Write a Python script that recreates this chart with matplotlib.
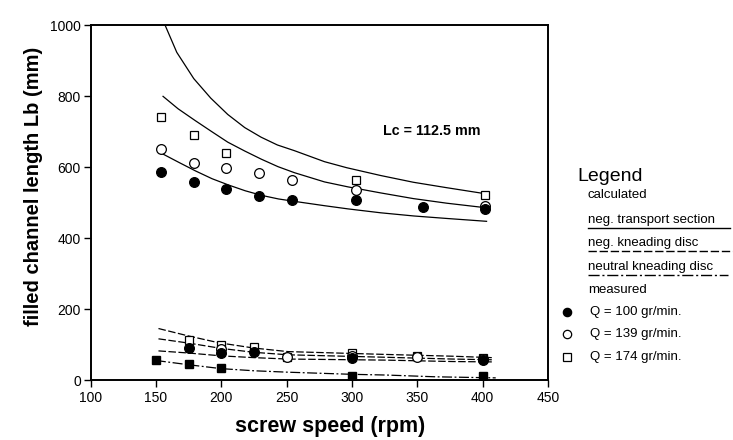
import matplotlib
matplotlib.use("Agg")
import matplotlib.pyplot as plt
from matplotlib.lines import Line2D

plt.rcParams['font.family'] = ['Liberation Sans', 'DejaVu Sans']

# --- measured points, upper group (neg. transport section) ---
q100_speed = [154, 179, 204, 229, 254, 303, 354, 402]
q100_len = [586, 557, 537, 518, 508, 506, 487, 482]
q139_speed = [154, 179, 204, 229, 254, 303, 402]
q139_len = [650, 612, 596, 583, 562, 535, 490]
q174_speed = [154, 179, 204, 303, 402]
q174_len = [741, 690, 640, 564, 521]

# --- measured points, lower group ---
low_q100_speed = [175, 200, 225, 300, 400]
low_q100_len = [90, 75, 80, 61, 57]
low_q139_speed = [200, 250, 300, 350, 400]
low_q139_len = [86, 64, 68, 65, 60]
low_q174_speed = [175, 200, 225, 250, 300, 350, 400]
low_q174_len = [113, 98, 92, 66, 75, 68, 63]
neutral_speed = [150, 175, 200, 300, 400]
neutral_len = [55, 44, 33, 12, 10]

# --- calculated curves, neg. transport section (solid) ---
calc_t1_speed = [157, 166, 179, 192, 205, 218, 230.5, 243, 256, 279, 296, 322, 347, 372, 401.5]
calc_t1_len = [1000, 923, 849, 794, 748, 711, 684, 662, 646, 615, 598, 576, 557, 542, 525]
calc_t2_speed = [155.5, 167, 180, 192.6, 205, 218, 230.7, 243.4, 256, 279, 297, 322, 347, 372.6, 403]
calc_t2_len = [799, 764, 731, 700, 670, 645, 622, 601, 584, 558, 544, 527, 511, 498, 485]
calc_t3_speed = [153.6, 167.6, 180.3, 193, 205.8, 218.4, 231, 243.8, 256.4, 279, 297, 322, 347.5, 372.7, 403]
calc_t3_len = [640, 613, 589, 567, 549, 533, 520, 510, 503, 491, 482, 471, 462, 455, 447]

# --- calculated curves, neg. kneading disc (dashed) ---
calc_k1_speed = [152, 175, 198, 225, 251, 326, 377, 407]
calc_k1_len = [145, 124, 105, 90, 80, 72, 67, 63]
calc_k2_speed = [152, 175, 200, 225, 251, 326, 377, 407]
calc_k2_len = [116, 104, 89, 78, 71, 64, 59, 57]
calc_k3_speed = [152, 175, 200, 225, 251, 326, 377, 407]
calc_k3_len = [82, 76, 68, 63, 59, 56, 52, 51]

# --- calculated curve, neutral kneading disc (dash-dot) ---
calc_n_speed = [150, 175, 200, 225, 251, 300, 326, 364, 410]
calc_n_len = [55, 43, 32, 26, 22, 16, 14, 9, 6]

W, H = 733, 440
fig = plt.figure(figsize=(W / 100, H / 100), dpi=100)
ax_l, ax_r, ax_t, ax_b = 90.5, 548, 25, 380
ax = fig.add_axes([ax_l / W, 1 - ax_b / H, (ax_r - ax_l) / W, (ax_b - ax_t) / H])

lw = 0.9
dash = (0, (6, 2))
dashdot = (0, (8, 2, 1.5, 2))
for xs, ys in [(calc_t1_speed, calc_t1_len), (calc_t2_speed, calc_t2_len), (calc_t3_speed, calc_t3_len)]:
    ax.plot(xs, ys, color='black', lw=lw, ls='-')
for xs, ys in [(calc_k1_speed, calc_k1_len), (calc_k2_speed, calc_k2_len), (calc_k3_speed, calc_k3_len)]:
    ax.plot(xs, ys, color='black', lw=lw, ls=dash)
ax.plot(calc_n_speed, calc_n_len, color='black', lw=lw, ls=dashdot)

sq = dict(marker='s', ls='none', ms=6.3, mfc='white', mec='black', mew=0.9)
oc = dict(marker='o', ls='none', ms=7, mfc='white', mec='black', mew=0.9)
fc = dict(marker='o', ls='none', ms=7, mfc='black', mec='black', mew=0.9)

ax.plot(q174_speed, q174_len, **sq)
ax.plot(q139_speed, q139_len, **oc)
ax.plot(q100_speed, q100_len, **fc)
ax.plot(low_q174_speed, low_q174_len, **sq)
ax.plot(low_q139_speed, low_q139_len, **oc)
ax.plot(low_q100_speed, low_q100_len, **fc)
ax.plot(neutral_speed, neutral_len, marker='s', ls='none', ms=6.3, mfc='black', mec='black')

ax.set_xlim(100, 450)
ax.set_ylim(0, 1000)
ax.set_xticks(range(100, 451, 50))
ax.set_yticks(range(0, 1001, 200))
ax.tick_params(direction='out', length=5, width=1, labelsize=10, pad=2)
ax.tick_params(axis='x', pad=3)
for s in ax.spines.values():
    s.set_linewidth(1.4)

ax.set_ylabel('filled channel length Lb (mm)', fontsize=14.5, fontweight='bold')
ax.yaxis.set_label_coords((43 - ax_l) / (ax_r - ax_l), (ax_b - 186) / (ax_b - ax_t))
ax.set_xlabel('screw speed (rpm)', fontsize=15.5, fontweight='bold')
ax.xaxis.set_label_coords((330 - ax_l) / (ax_r - ax_l), (ax_b - 416) / (ax_b - ax_t))

ax.text((383 - ax_l) / (ax_r - ax_l), (ax_b - 131) / (ax_b - ax_t), 'Lc = 112.5 mm',
        transform=ax.transAxes, fontsize=10.3, fontweight='bold', va='center', ha='left')


# --- hand-made legend outside the axes ---
def fx(px):
    return px / W


def fy(py):
    return 1 - py / H


fig.text(fx(577), fy(176), 'Legend', fontsize=14, va='center', ha='left')
fig.text(fx(588), fy(195), 'calculated', fontsize=9.5, va='center', ha='left')
legend_rows = [
    ('neg. transport section', 220, '-', 730),
    ('neg. kneading disc', 243, dash, 733),
    ('neutral kneading disc', 267, dashdot, 728),
]
for label, py, style, x_end in legend_rows:
    fig.text(fx(588), fy(py), label, fontsize=9.5, va='center', ha='left')
    fig.add_artist(Line2D([fx(588), fx(x_end)], [fy(py + 8), fy(py + 8)],
                          transform=fig.transFigure, color='black', lw=1, ls=style))
fig.text(fx(588), fy(290), 'measured', fontsize=9.5, va='center', ha='left')

meas_rows = [('Q = 100 gr/min.', 312, fc), ('Q = 139 gr/min.', 334, oc), ('Q = 174 gr/min.', 357, sq)]
for label, py, style in meas_rows:
    m = dict(style)
    m['ms'] = 6
    fig.add_artist(Line2D([fx(567)], [fy(py)], transform=fig.transFigure, **m))
    fig.text(fx(590), fy(py), label, fontsize=9.5, va='center', ha='left')

fig.savefig('out.png', dpi=100)
